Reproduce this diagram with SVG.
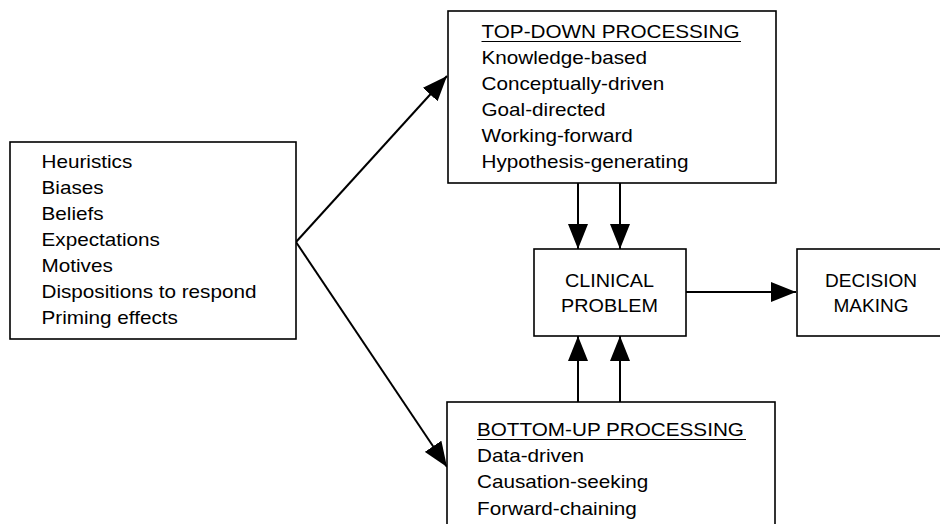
<svg xmlns="http://www.w3.org/2000/svg" width="940" height="524" viewBox="0 0 940 524">
<style>
.box{fill:#fff;stroke:#000;stroke-width:1.6}
.t{font-family:"Liberation Sans",Arial,sans-serif;font-size:18px;fill:#000}
.c{text-anchor:middle}
.ln{stroke:#000;stroke-width:2;fill:none}
.ul{stroke:#000;stroke-width:1.2}
</style>
<defs>
<marker id="ah" viewBox="0 0 25 20" refX="25" refY="10" markerWidth="25" markerHeight="20" markerUnits="userSpaceOnUse" orient="auto">
<path d="M0,0 L25,10 L0,20 Z" fill="#000"/>
</marker>
</defs>
<rect width="940" height="524" fill="#fff"/>
<g id="connectors">
<line class="ln" x1="296" y1="242" x2="447" y2="76" marker-end="url(#ah)"/>
<line class="ln" x1="296" y1="242" x2="447" y2="467" marker-end="url(#ah)"/>
<line class="ln" x1="578" y1="183" x2="578" y2="249" marker-end="url(#ah)"/>
<line class="ln" x1="620" y1="183" x2="620" y2="249" marker-end="url(#ah)"/>
<line class="ln" x1="578" y1="402" x2="578" y2="336" marker-end="url(#ah)"/>
<line class="ln" x1="620" y1="402" x2="620" y2="336" marker-end="url(#ah)"/>
<line class="ln" x1="686" y1="292" x2="796" y2="292" marker-end="url(#ah)"/>
</g>
<g id="influences">
<rect class="box" x="10" y="142" width="286" height="197"/>
<g transform="translate(41.5,0) scale(1.15,1)">
<text class="t" x="0" y="168">Heuristics</text>
<text class="t" x="0" y="194">Biases</text>
<text class="t" x="0" y="220">Beliefs</text>
<text class="t" x="0" y="246">Expectations</text>
<text class="t" x="0" y="272">Motives</text>
<text class="t" x="0" y="298">Dispositions to respond</text>
<text class="t" x="0" y="324">Priming effects</text>
</g>
</g>
<g id="top-down">
<rect class="box" x="448" y="11" width="328" height="172"/>
<g transform="translate(481.5,0) scale(1.15,1)">
<text class="t" x="0" y="38">TOP-DOWN PROCESSING</text>
<text class="t" x="0" y="64">Knowledge-based</text>
<text class="t" x="0" y="90">Conceptually-driven</text>
<text class="t" x="0" y="116">Goal-directed</text>
<text class="t" x="0" y="142">Working-forward</text>
<text class="t" x="0" y="168">Hypothesis-generating</text>
</g>
<line class="ul" x1="481.5" y1="41.5" x2="741" y2="41.5"/>
</g>
<g id="clinical-problem">
<rect class="box" x="534" y="249" width="152" height="87"/>
<g transform="translate(609.5,0) scale(1.1,1)">
<text class="t c" x="0" y="287">CLINICAL</text>
<text class="t c" x="0" y="312">PROBLEM</text>
</g>
</g>
<g id="decision-making">
<rect class="box" x="797" y="249" width="150" height="87"/>
<g transform="translate(871,0) scale(1.06,1)">
<text class="t c" x="0" y="287">DECISION</text>
<text class="t c" x="0" y="312">MAKING</text>
</g>
</g>
<g id="bottom-up">
<rect class="box" x="447" y="402" width="328" height="130"/>
<g transform="translate(477,0) scale(1.15,1)">
<text class="t" x="0" y="436">BOTTOM-UP PROCESSING</text>
<text class="t" x="0" y="462">Data-driven</text>
<text class="t" x="0" y="488.5">Causation-seeking</text>
<text class="t" x="0" y="515">Forward-chaining</text>
</g>
<line class="ul" x1="477" y1="439.5" x2="746" y2="439.5"/>
</g>
</svg>
